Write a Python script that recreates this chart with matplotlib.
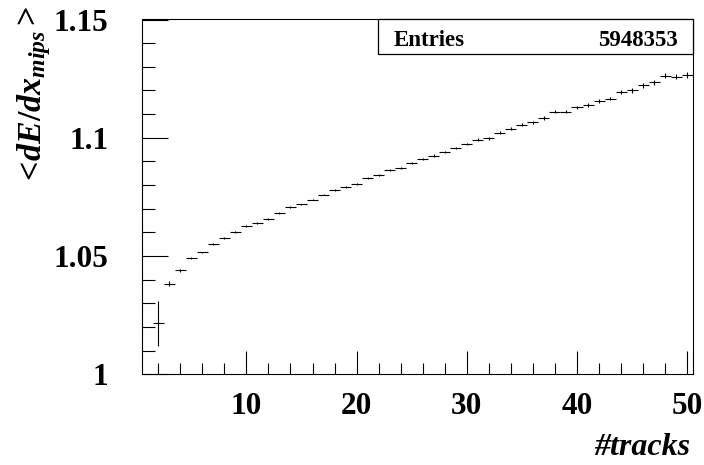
import numpy as np
import matplotlib
matplotlib.use("Agg")
import matplotlib.pyplot as plt
from matplotlib.ticker import MultipleLocator, FixedLocator

# Profile of mean dE/dx (in MIP units) versus track multiplicity
n_tracks = list(range(2, 51))
mean_dedx = [
    1.0215, 1.0383, 1.0439, 1.0491, 1.0515, 1.0551, 1.0575, 1.0601, 1.0627,
    1.0641, 1.0657, 1.0683, 1.0707, 1.0718, 1.0739, 1.0760, 1.0779, 1.0793,
    1.0805, 1.0829, 1.0841, 1.0862, 1.0873, 1.0894, 1.0910, 1.0925, 1.0940,
    1.0957, 1.0973, 1.0991, 1.0997, 1.1021, 1.1039, 1.1055, 1.1066, 1.1083,
    1.1110, 1.1110, 1.1128, 1.1139, 1.1156, 1.1166, 1.1193, 1.1200, 1.1222,
    1.1234, 1.1263, 1.1259, 1.1266,
]
dedx_err = [
    0.0097, 0.0011, 0.0006, 0.0004, 0.0004, 0.0004, 0.0004, 0.0004, 0.0004,
    0.0004, 0.0004, 0.0004, 0.0004, 0.0004, 0.0004, 0.0004, 0.0004, 0.0004,
    0.0004, 0.0004, 0.0004, 0.0004, 0.0004, 0.0004, 0.0005, 0.0005, 0.0005,
    0.0005, 0.0005, 0.0006, 0.0006, 0.0006, 0.0006, 0.0006, 0.0006, 0.0007,
    0.0007, 0.0007, 0.0007, 0.0008, 0.0008, 0.0008, 0.0009, 0.0009, 0.0010,
    0.0010, 0.0011, 0.0011, 0.0012,
]
bin_half_width = 0.5
entries = "5948353"
x_ticks = [10, 20, 30, 40, 50]
y_ticks = [1.0, 1.05, 1.1, 1.15]
y_tick_labels = ["1", "1.05", "1.1", "1.15"]

plt.rcParams["font.family"] = ["Liberation Serif", "DejaVu Serif"]
plt.rcParams["font.weight"] = "bold"
plt.rcParams["mathtext.fontset"] = "custom"
plt.rcParams["mathtext.rm"] = "Liberation Serif:bold"
plt.rcParams["mathtext.bf"] = "Liberation Serif:bold"
plt.rcParams["mathtext.it"] = "Liberation Serif:bold:italic"

W, H = 704, 465
fig = plt.figure(figsize=(W / 100, H / 100), dpi=100)
x0, x1, y0, y1 = 141.7, 692.7, 19.5, 374.3
ax = fig.add_axes([x0 / W, 1 - y1 / H, (x1 - x0) / W, (y1 - y0) / H])

ax.errorbar(n_tracks, mean_dedx, xerr=bin_half_width, yerr=dedx_err,
            fmt="none", ecolor="black", elinewidth=0.8, capsize=0)

ax.set_xlim(0.5, 50.5)
ax.set_ylim(1.0, 1.15)

ax.xaxis.set_major_locator(FixedLocator(x_ticks))
ax.xaxis.set_minor_locator(MultipleLocator(2))
ax.yaxis.set_major_locator(FixedLocator(y_ticks))
ax.set_yticklabels(y_tick_labels)
ax.yaxis.set_minor_locator(MultipleLocator(0.01))

for s in ax.spines.values():
    s.set_linewidth(0.8)
ax.tick_params(axis="x", which="major", direction="in", length=16.5,
               width=0.8, pad=13, labelsize=22.5)
ax.tick_params(axis="x", which="minor", direction="in", length=8, width=0.8)
ax.tick_params(axis="y", which="major", direction="in", length=18.5,
               width=0.8, pad=24, labelsize=22.5)
ax.tick_params(axis="y", which="minor", direction="in", length=9, width=0.8)

# Axis titles
fig.text(690 / W, 1 - 455 / H, "#tracks", ha="right", va="baseline",
         fontsize=23, fontweight="bold", fontstyle="italic")

# y title: "<dE/dx_mips" with a raised closing bracket after it
ylab = fig.text(53 / W, 1 - 186 / H, r"$<\!dE/dx_{mips}$", rotation=90,
                ha="right", va="bottom", fontsize=24.5)
fig.canvas.draw()
ext = ylab.get_window_extent()
fig.text(44 / W, (ext.y1 - 1) / H, r"$>$", rotation=90,
         ha="right", va="bottom", fontsize=24.5)

# Statistics box
bx0, bx1, by0, by1 = 378, 692.7, 19.5, 54
box = plt.Rectangle((bx0 / W, 1 - by1 / H), (bx1 - bx0) / W, (by1 - by0) / H,
                    transform=fig.transFigure, facecolor="white",
                    edgecolor="black", linewidth=0.9, zorder=5)
fig.add_artist(box)
fig.text(394 / W, 1 - 46 / H, "Entries", ha="left", va="baseline",
         fontsize=16.5, fontweight="bold", zorder=6)
fig.text(678 / W, 1 - 46 / H, entries, ha="right", va="baseline",
         fontsize=16.5, fontweight="bold", zorder=6)

fig.savefig("out.png", dpi=100)
